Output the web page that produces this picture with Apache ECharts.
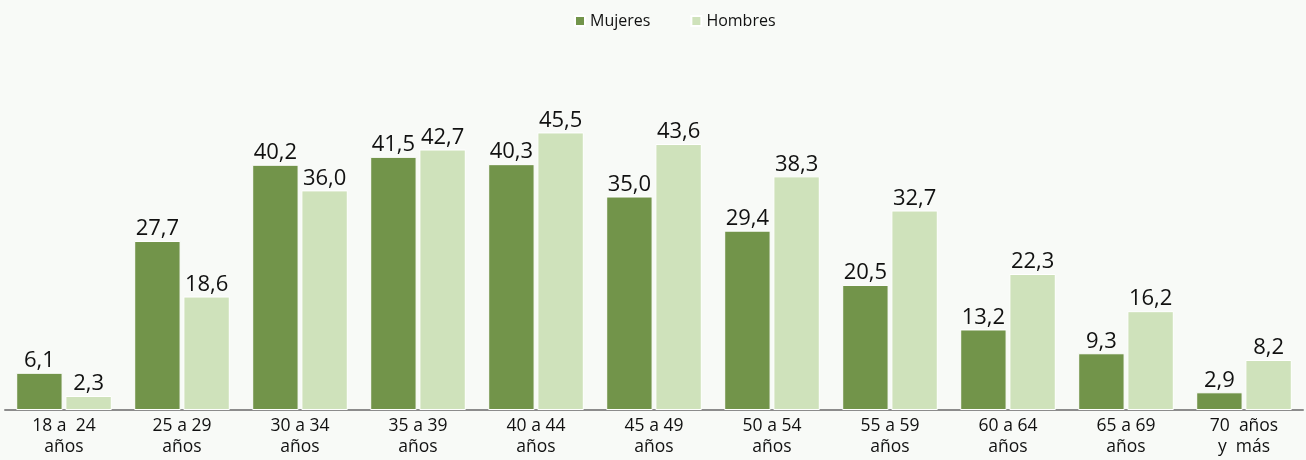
<!DOCTYPE html>
<html>
<head>
<meta charset="utf-8">
<script src="https://cdn.jsdelivr.net/npm/echarts@6/dist/echarts.min.js"></script>
<style>
  html, body { margin: 0; padding: 0; background: #f8faf7; }
  #chart { width: 1306px; height: 460px; }
</style>
</head>
<body>
<div id="chart"></div>
<script>
const categories = ['18 a  24\naños', '25 a 29\naños', '30 a 34\naños', '35 a 39\naños', '40 a 44\naños',
  '45 a 49\naños', '50 a 54\naños', '55 a 59\naños', '60 a 64\naños', '65 a 69\naños', '70  años\ny  más']
const mujeres = [6.1, 27.7, 40.2, 41.5, 40.3, 35.0, 29.4, 20.5, 13.2, 9.3, 2.9]
const hombres = [2.3, 18.6, 36.0, 42.7, 45.5, 43.6, 38.3, 32.7, 22.3, 16.2, 8.2]

const chart = echarts.init(document.getElementById('chart'))

const fmt = (p) => p.value.toFixed(1).replace('.', ',')
const labelStyle = {
  show: true,
  position: 'top',
  distance: 1,
  formatter: fmt,
  color: '#111',
  fontSize: 22,
  fontFamily: 'Open Sans'
}

chart.setOption({
  backgroundColor: '#f8faf7',
  textStyle: { fontFamily: 'Open Sans' },
  legend: {
    top: 8,
    left: 569,
    itemWidth: 10,
    itemHeight: 10,
    itemGap: 40,
    icon: 'rect',
    textStyle: { fontSize: 16, color: '#111', fontFamily: 'Open Sans' },
    data: ['Mujeres', 'Hombres']
  },
  grid: { left: 5, right: 3, top: 105, bottom: 50 },
  xAxis: {
    type: 'category',
    data: categories,
    axisLine: { lineStyle: { color: '#8c8c8c', width: 2 } },
    axisTick: { show: false },
    axisLabel: { color: '#111', fontSize: 17.5, lineHeight: 21, margin: 6, interval: 0 }
  },
  yAxis: {
    type: 'value',
    min: 0,
    max: 50,
    show: false,
    splitLine: { show: false }
  },
  series: [
    {
      name: 'Mujeres',
      type: 'bar',
      data: mujeres,
      barGap: '6%',
      barCategoryGap: '19%',
      itemStyle: { color: '#72944a', borderColor: '#ffffff', borderWidth: 1 },
      label: labelStyle
    },
    {
      name: 'Hombres',
      type: 'bar',
      data: hombres,
      itemStyle: { color: '#cfe2bb', borderColor: '#ffffff', borderWidth: 1 },
      label: labelStyle
    }
  ]
})
</script>
</body>
</html>
